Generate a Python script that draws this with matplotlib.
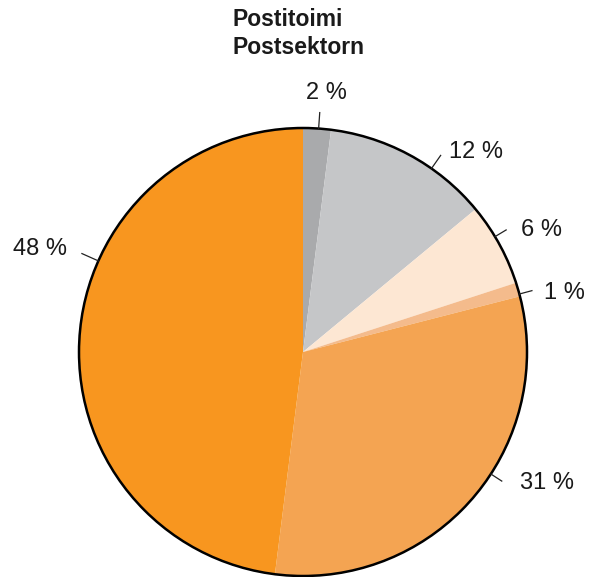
import numpy as np
import matplotlib
matplotlib.use('Agg')
import matplotlib.pyplot as plt
from matplotlib.patches import Circle

# data, clockwise from the top
shares = [2, 12, 6, 1, 31, 48]
labels = ['2 %', '12 %', '6 %', '1 %', '31 %', '48 %']
colors = ['#a9aaac', '#c5c6c8', '#fde7d3', '#f4bb8c', '#f4a452', '#f8961f']
title_lines = ['Postitoimi', 'Postsektorn']

# leader line angle (deg, clockwise from top), length, text offset (px), alignment
lead_ang = [4, 35, 59, 75, 123, 294]
lead_len = [16, 16, 13, 13, 13, 18]
txt_off = [(7, 20, 'center'), (8, 3, 'left'), (15, 0, 'left'), (12, -2, 'left'), (18, -2, 'left'), (-15, 5, 'right')]

W, H = 590, 577
cx, cy, R = 303, H - 352, 224

plt.rcParams['font.family'] = ['Liberation Sans', 'DejaVu Sans']
fig = plt.figure(figsize=(W / 100, H / 100), dpi=100)
ax = fig.add_axes([0, 0, 1, 1])

wedges, _ = ax.pie(shares, colors=colors, startangle=90, counterclock=False,
                   center=(cx, cy), radius=R, frame=True,
                   wedgeprops=dict(linewidth=0, edgecolor='none'))
ax.set_xlim(0, W)
ax.set_ylim(0, H)
ax.set_aspect('equal')
ax.axis('off')
ax.add_patch(Circle((cx, cy), R, fill=False, edgecolor='black', linewidth=1.8))

for lab, a, ln, (dx, dy, ha) in zip(labels, lead_ang, lead_len, txt_off):
    t = np.deg2rad(a)
    x0, y0 = cx + R * np.sin(t), cy + R * np.cos(t)
    x1, y1 = cx + (R + ln) * np.sin(t), cy + (R + ln) * np.cos(t)
    ax.plot([x0, x1], [y0, y1], color='#222222', lw=0.9)
    ax.annotate(lab, xy=(x1, y1), xytext=(dx, dy), textcoords='offset pixels',
                ha=ha, va='center', fontsize=17, color='#1a1a1a')

ax.text(233, H - 20, title_lines[0], ha='left', va='center', fontsize=16.5,
        fontweight='bold', color='#1a1a1a')
ax.text(233, H - 48, title_lines[1], ha='left', va='center', fontsize=16.5,
        fontweight='bold', color='#1a1a1a')

fig.savefig('out.png', dpi=100, facecolor='white')
